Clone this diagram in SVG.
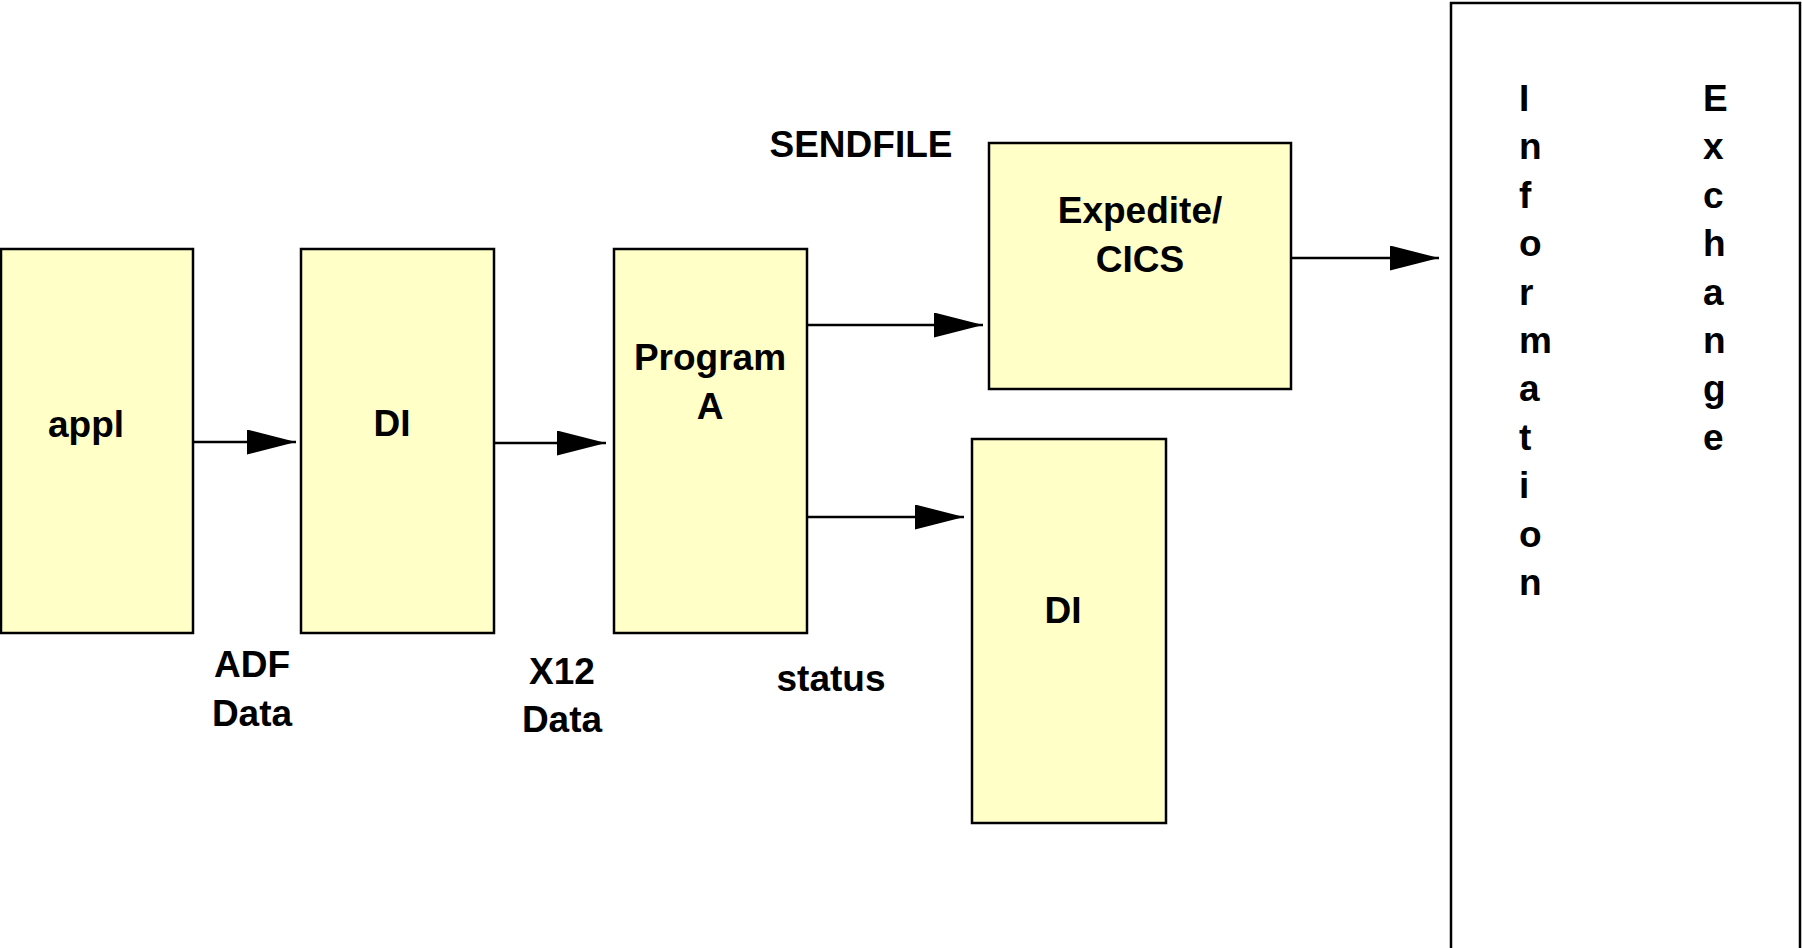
<svg xmlns="http://www.w3.org/2000/svg" width="1802" height="948" viewBox="0 0 1802 948">
<style>
.box{fill:#FFFFC8;stroke:#000;stroke-width:2.5}
.ext{fill:#fff;stroke:#000;stroke-width:2.5}
.t{font-family:"Liberation Sans",Arial,sans-serif;font-weight:bold;font-size:37px;fill:#000}
.m{text-anchor:middle}
.ln{stroke:#000;stroke-width:2.5;fill:none}
</style>
<defs>
<marker id="ah" markerUnits="userSpaceOnUse" markerWidth="50" markerHeight="26" refX="49" refY="12.5" orient="auto">
<path d="M0,0 L49,12.5 L0,25 Z" fill="#000"/>
</marker>
</defs>
<rect width="1802" height="948" fill="#fff"/>
<g id="connectors">
<line class="ln" x1="194" y1="442" x2="296" y2="442" marker-end="url(#ah)"/>
<line class="ln" x1="494" y1="443" x2="606" y2="443" marker-end="url(#ah)"/>
<line class="ln" x1="807" y1="325" x2="983" y2="325" marker-end="url(#ah)"/>
<line class="ln" x1="807" y1="517" x2="964" y2="517" marker-end="url(#ah)"/>
<line class="ln" x1="1291" y1="258" x2="1439" y2="258" marker-end="url(#ah)"/>
</g>
<g id="appl">
<rect class="box" x="1" y="249" width="192" height="384"/>
<text class="t m" x="86" y="437">appl</text>
</g>
<g id="di1">
<rect class="box" x="301" y="249" width="193" height="384"/>
<text class="t m" x="392" y="436">DI</text>
</g>
<g id="programA">
<rect class="box" x="614" y="249" width="193" height="384"/>
<text class="t m" x="710" y="370">Program</text>
<text class="t m" x="710" y="419">A</text>
</g>
<g id="expedite">
<rect class="box" x="989" y="143" width="302" height="246"/>
<text class="t m" x="1140" y="223">Expedite/</text>
<text class="t m" x="1140" y="272">CICS</text>
</g>
<g id="di2">
<rect class="box" x="972" y="439" width="194" height="384"/>
<text class="t m" x="1063" y="623">DI</text>
</g>
<g id="infoExchange">
<rect class="ext" x="1451" y="3" width="349" height="950"/>
<text class="t" x="1519" y="111">I</text>
<text class="t" x="1519" y="159">n</text>
<text class="t" x="1519" y="208">f</text>
<text class="t" x="1519" y="256">o</text>
<text class="t" x="1519" y="305">r</text>
<text class="t" x="1519" y="353">m</text>
<text class="t" x="1519" y="401">a</text>
<text class="t" x="1519" y="450">t</text>
<text class="t" x="1519" y="498">i</text>
<text class="t" x="1519" y="547">o</text>
<text class="t" x="1519" y="595">n</text>
<text class="t" x="1703" y="111">E</text>
<text class="t" x="1703" y="159">x</text>
<text class="t" x="1703" y="208">c</text>
<text class="t" x="1703" y="256">h</text>
<text class="t" x="1703" y="305">a</text>
<text class="t" x="1703" y="353">n</text>
<text class="t" x="1703" y="401">g</text>
<text class="t" x="1703" y="450">e</text>
</g>
<g id="labels">
<text class="t m" x="861" y="157">SENDFILE</text>
<text class="t m" x="252" y="677">ADF</text>
<text class="t m" x="252" y="726">Data</text>
<text class="t m" x="562" y="684">X12</text>
<text class="t m" x="562" y="732">Data</text>
<text class="t m" x="831" y="691">status</text>
</g>
</svg>
